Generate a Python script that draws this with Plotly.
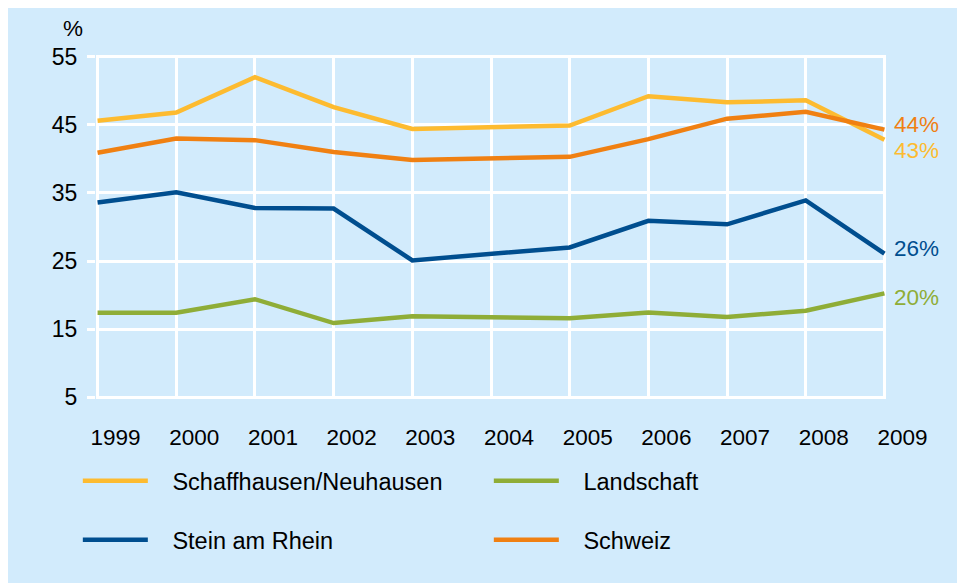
import plotly.graph_objects as go

years = [1999, 2000, 2001, 2002, 2003, 2004, 2005, 2006, 2007, 2008, 2009]
schaffhausen = [45.6, 46.8, 52.0, 47.6, 44.4, 44.7, 44.9, 49.2, 48.3, 48.6, 42.8]
landschaft = [17.4, 17.4, 19.4, 15.9, 16.9, 16.7, 16.6, 17.45, 16.8, 17.7, 20.25]
stein = [33.6, 35.1, 32.8, 32.7, 25.1, 26.0, 27.0, 30.9, 30.4, 33.9, 26.1]
schweiz = [40.9, 43.0, 42.75, 41.0, 39.85, 40.1, 40.3, 42.9, 45.9, 46.9, 44.3]
end_labels = ["43%", "20%", "26%", "44%"]
y_ticks = [5, 15, 25, 35, 45, 55]

BG = "#d2ebfc"
FONT = "Liberation Sans, Arial, sans-serif"
colors = {"Schaffhausen/Neuhausen": "#fdbb30", "Landschaft": "#8fad37",
          "Stein am Rhein": "#004e8f", "Schweiz": "#f08012"}

series = [
    ("Schaffhausen/Neuhausen", schaffhausen, "legend", end_labels[0], -11),
    ("Landschaft", landschaft, "legend", end_labels[1], -4),
    ("Stein am Rhein", stein, "legend2", end_labels[2], 5),
    ("Schweiz", schweiz, "legend2", end_labels[3], 5.5),
]

fig = go.Figure()
pad = "\u00a0" * 3
for name, vals, leg, lab, ys in series:
    fig.add_trace(go.Scatter(
        x=years, y=vals, mode="lines", name=pad + name, legend=leg,
        line=dict(color=colors[name], width=4.5), hoverinfo="skip"))
    fig.add_annotation(x=years[-1], y=vals[-1], text=lab, showarrow=False,
                       xanchor="left", yanchor="middle", xshift=8, yshift=ys,
                       font=dict(family=FONT, size=22.5, color=colors[name]))

fig.add_annotation(xref="paper", yref="paper", x=0, y=1, text="%", showarrow=False,
                   xanchor="right", yanchor="middle", xshift=-11, yshift=27,
                   font=dict(family=FONT, size=22.5, color="black"))

legend_common = dict(orientation="h", bgcolor="rgba(0,0,0,0)", borderwidth=0,
                     font=dict(family=FONT, size=23.5, color="black"),
                     itemwidth=65, entrywidthmode="pixels", entrywidth=331,
                     xanchor="left", yanchor="middle", x=-0.023)

fig.update_layout(
    width=957, height=575,
    margin=dict(l=88, r=79, t=47, b=184),
    paper_bgcolor=BG, plot_bgcolor=BG,
    font=dict(family=FONT, size=22.5, color="black"),
    showlegend=True,
    legend=dict(**legend_common, y=-0.238),
    legend2=dict(**legend_common, y=-0.41),
    xaxis=dict(range=[1998.98, 2009.02], tickvals=years, showgrid=True, gridcolor="white",
               gridwidth=2.5, zeroline=False, showline=False, ticks="",
               ticklabelstandoff=22, ticklabelshift=18,
               tickfont=dict(family=FONT, size=22.5, color="black")),
    yaxis=dict(range=[4.75, 55.25], tickvals=y_ticks, showgrid=True, gridcolor="white",
               gridwidth=2.5, zeroline=False, showline=False, ticks="outside",
               ticklen=8, tickcolor="white", tickwidth=2.5, ticklabelstandoff=5,
               tickfont=dict(family=FONT, size=23, color="black")),
)

fig.write_html("out.html")
